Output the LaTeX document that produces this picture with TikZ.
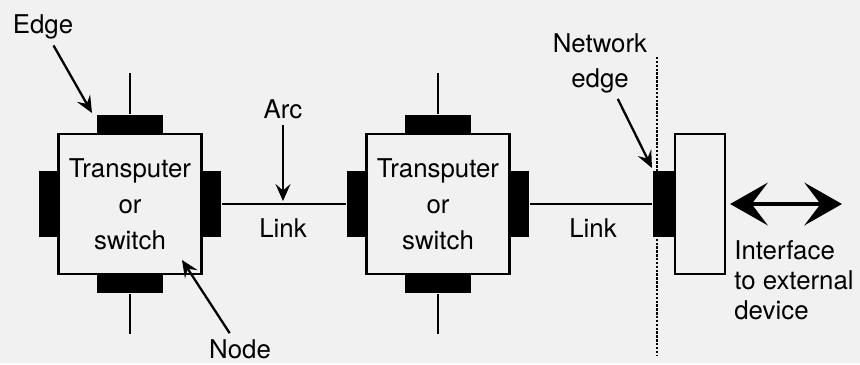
\documentclass[tikz,border=0pt]{standalone}
\usepackage{fontspec}
\setmainfont{TeX Gyre Heros}
\usetikzlibrary{arrows.meta,positioning}
\tikzset{
  unit/.style={draw, line width=1.3pt, minimum width=2.86cm, minimum height=2.8cm, inner sep=0pt, align=center, font=\fontsize{14.7}{20.6}\selectfont},
  hpad/.style={fill=black, minimum width=1.34cm, minimum height=0.36cm, inner sep=0pt},
  vpad/.style={fill=black, minimum width=0.37cm, minimum height=1.32cm, inner sep=0pt},
  wire/.style={line width=1.3pt},
  pointer/.style={line width=1.3pt, -{Stealth[length=0.34cm, width=0.3cm, inset=0.13cm]}},
  bigarrow/.style={line width=2.8pt, {Stealth[length=0.75cm, width=0.85cm, inset=0.32cm]}-{Stealth[length=0.75cm, width=0.85cm, inset=0.32cm]}}
}
\begin{document}
\begin{tikzpicture}[x=0.02cm, y=-0.02cm, every node/.style={font=\fontsize{14.7}{20.6}\selectfont}]
\fill[gray!11] (0,0) rectangle (860,363);
% the two units with their link pads
\node[unit] (u1) at (130,204) {Transputer\\or\\switch};
\node[unit] (u2) at (438,204) {Transputer\\or\\switch};
\foreach \u in {u1,u2} {
  \node[hpad, anchor=south] (\u-t) at (\u.north) {};
  \node[hpad, anchor=north] (\u-b) at (\u.south) {};
  \node[vpad, anchor=east] (\u-l) at (\u.west) {};
  \node[vpad, anchor=west] (\u-r) at (\u.east) {};
  \path (\u-t.north) ++(0,-41) coordinate (\u-up);
  \path (\u-b.south) ++(0,40) coordinate (\u-down);
  \draw[wire] (\u-t) -- (\u-up);
  \draw[wire] (\u-b) -- (\u-down);
}
% interface at the network edge
\node[draw, line width=1.3pt, minimum width=1.0cm, minimum height=2.8cm, inner sep=0pt] (ifc) at (700,204) {};
\node[vpad, anchor=east, minimum width=0.42cm] (ne) at (ifc.west) {};
\coordinate (net-top) at (657,57);
\coordinate (net-bot) at (657,355);
\draw[line width=1.3pt, dash pattern=on 1.4pt off 0.8pt] (net-top) -- (net-bot);
\draw[wire] (u1-r) -- (u2-l);
\draw[wire] (u2-r) -- (ne);
% labels
\node (edge) at (43,27) {Edge};
\coordinate (edge-tip) at (92,113);
\draw[pointer] (edge) -- (edge-tip);
\node (arc) at (283,109) {Arc};
\coordinate (arc-tip) at (283,201);
\draw[pointer] (arc) -- (arc-tip);
\node (link1) at (283,228) {Link};
\node (link2) at (593,228) {Link};
\node (node) at (240,349) {Node};
\coordinate (node-tip) at (182,260);
\draw[pointer] (node) -- (node-tip);
\node[align=center, font=\fontsize{14.7}{19.9}\selectfont] (netedge) at (600,63) {Network\\edge};
\coordinate (netedge-tip) at (652,168);
\draw[pointer] (netedge) -- (netedge-tip);
\coordinate (ext) at (842,204);
\draw[bigarrow, shorten <=0.08cm] (ifc.east) -- (ext);
\node[anchor=north west, inner sep=0pt, align=left, font=\fontsize{14.7}{17}\selectfont] (dev) at (734,240) {Interface\\to external\\device};
\end{tikzpicture}
\end{document}
